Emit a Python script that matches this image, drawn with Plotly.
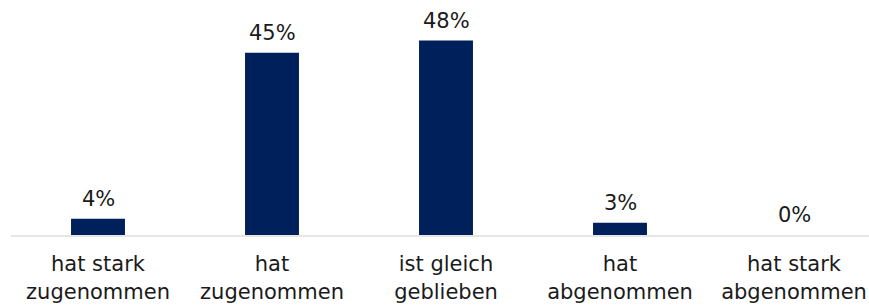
import plotly.graph_objects as go

categories = ["hat stark<br>zugenommen", "hat<br>zugenommen", "ist gleich<br>geblieben",
              "hat<br>abgenommen", "hat stark<br>abgenommen"]
values = [4, 45, 48, 3, 0]
labels = ["4%", "45%", "48%", "3%", "0%"]

BAR = "#00205b"
TXT = "#1a1a1a"
FONT = "DejaVu Sans"

xs = list(range(len(categories)))

fig = go.Figure(go.Bar(
    x=xs, y=values, width=0.31, cliponaxis=False,
    marker=dict(color=BAR, line=dict(width=0)),
))

for x, v, t in zip(xs, values, labels):
    fig.add_annotation(x=x, y=v, text=t, showarrow=False, yanchor="bottom",
                       xanchor="center", yshift=6,
                       font=dict(family=FONT, size=21, color=TXT))

fig.update_layout(
    width=869, height=306,
    margin=dict(l=11, r=0, t=0, b=71),
    plot_bgcolor="white", paper_bgcolor="white",
    showlegend=False,
    font=dict(family=FONT, size=21, color=TXT),
    xaxis=dict(range=[-0.5, 4.431], tickmode="array",
               tickvals=xs, ticktext=categories,
               showline=True, linecolor="#e6e6e6", linewidth=2,
               showgrid=False, zeroline=False, ticks="", ticklabelstandoff=9,
               tickfont=dict(family=FONT, size=21, color=TXT)),
    yaxis=dict(range=[0, 58], visible=False, showgrid=False, zeroline=False),
)

fig.write_html("out.html", config={"displayModeBar": False},
               post_script="document.body.style.margin='0';document.body.style.overflow='hidden';")
